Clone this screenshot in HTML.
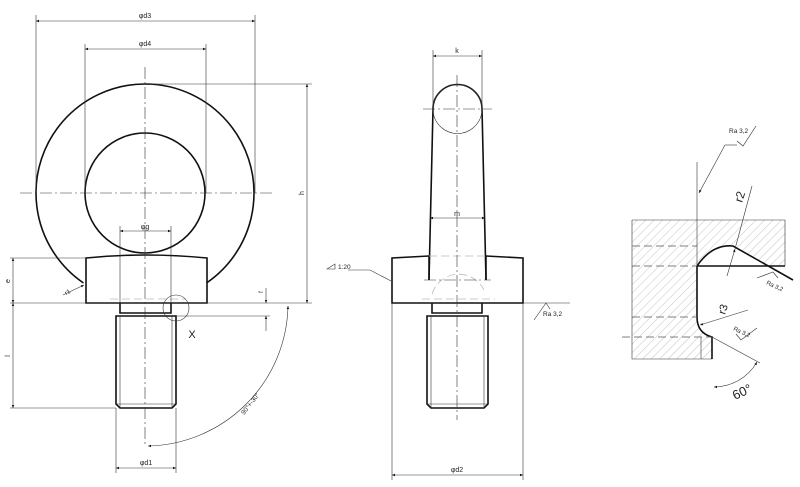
<!DOCTYPE html>
<html><head><meta charset="utf-8"><style>
html,body{margin:0;padding:0;background:#fff;width:800px;height:487px;overflow:hidden}
svg{display:block}
text{font-family:"Liberation Sans",sans-serif;fill:#222}
.k{stroke:#111;stroke-width:1.6;fill:none}
.t{stroke:#333;stroke-width:0.6;fill:none}
.c{stroke:#333;stroke-width:0.6;fill:none;stroke-dasharray:12 3 2 3}
.d{stroke:#555;stroke-width:0.8;fill:none;stroke-dasharray:8 4}
.g{stroke:#bbb;stroke-width:0.8;fill:none;stroke-dasharray:8 4}
</style></head><body>
<svg width="800" height="487" viewBox="0 0 800 487">
<defs>
<marker id="a" viewBox="0 0 10 10" refX="10" refY="5" markerWidth="7" markerHeight="5" orient="auto-start-reverse"><path d="M0,1 L10,5 L0,9z" fill="#111"/></marker>
<pattern id="h" width="6" height="6" patternUnits="userSpaceOnUse" patternTransform="rotate(45)"><line x1="0" y1="0" x2="0" y2="6" stroke="#999" stroke-width="0.6"/></pattern>
</defs>

<!-- LEFT VIEW -->
<path class="k" d="M83.5,283 A109,109 0 1 1 206.5,283"/>
<circle class="k" cx="145" cy="193" r="60"/>
<path class="k" d="M86,303 L86,258 Q145,252 207,258 L207,303 Z"/>
<path class="k" d="M120,303 L120,313 L171,313 L171,303"/>
<path class="k" d="M116,316 L176,316 L176,404 L172,408 L120,408 L116,404 Z"/>
<line class="t" x1="120" y1="316" x2="120" y2="408"/><line class="t" x1="172" y1="316" x2="172" y2="408"/>
<line class="t" x1="116" y1="404" x2="176" y2="404"/>
<line class="g" x1="110" y1="299" x2="185" y2="299"/>
<line class="c" x1="145" y1="67" x2="145" y2="445"/>
<line class="c" x1="20" y1="193" x2="275" y2="193"/>
<line class="t" x1="36" y1="15" x2="36" y2="193"/><line class="t" x1="255" y1="15" x2="255" y2="193"/>
<line class="t" x1="36" y1="21" x2="255" y2="21" marker-start="url(#a)" marker-end="url(#a)"/>
<text x="145" y="18" font-size="7" text-anchor="middle">φd3</text>
<line class="t" x1="85" y1="44" x2="85" y2="193"/><line class="t" x1="206" y1="44" x2="206" y2="193"/>
<line class="t" x1="85" y1="49" x2="206" y2="49" marker-start="url(#a)" marker-end="url(#a)"/>
<text x="145" y="46" font-size="7" text-anchor="middle">φd4</text>
<line class="t" x1="120" y1="226" x2="120" y2="303"/><line class="t" x1="171" y1="226" x2="171" y2="303"/>
<line class="t" x1="120" y1="231" x2="171" y2="231" marker-start="url(#a)" marker-end="url(#a)"/>
<text x="145" y="229" font-size="7" text-anchor="middle">φg</text>
<line class="t" x1="150" y1="84" x2="312" y2="84"/>
<line class="t" x1="10" y1="303" x2="312" y2="303"/>
<line class="t" x1="307" y1="84" x2="307" y2="303" marker-start="url(#a)" marker-end="url(#a)"/>
<text x="0" y="0" font-size="7" text-anchor="middle" transform="translate(304,193) rotate(-90)">h</text>
<line class="t" x1="10" y1="258" x2="86" y2="258"/>
<line class="t" x1="13" y1="258" x2="13" y2="303" marker-start="url(#a)" marker-end="url(#a)"/>
<text x="0" y="0" font-size="7" text-anchor="middle" transform="translate(10,281) rotate(-90)">e</text>
<line class="t" x1="10" y1="408" x2="116" y2="408"/>
<line class="t" x1="13" y1="303" x2="13" y2="408" marker-start="url(#a)" marker-end="url(#a)"/>
<text x="0" y="0" font-size="7" text-anchor="middle" transform="translate(10,356) rotate(-90)">l</text>
<line class="t" x1="176" y1="316" x2="270" y2="316"/>
<line class="t" x1="266" y1="288" x2="266" y2="303" marker-end="url(#a)"/>
<line class="t" x1="266" y1="331" x2="266" y2="316" marker-end="url(#a)"/>
<text x="0" y="0" font-size="6" text-anchor="middle" transform="translate(263,292) rotate(-90)">f</text>
<circle class="t" cx="176" cy="308" r="13"/>
<text x="192" y="338" font-size="11" text-anchor="middle" fill="#333">X</text>
<line class="t" x1="116" y1="408" x2="116" y2="473"/><line class="t" x1="176" y1="408" x2="176" y2="473"/>
<line class="t" x1="116" y1="468" x2="176" y2="468" marker-start="url(#a)" marker-end="url(#a)"/>
<text x="146" y="465" font-size="7" text-anchor="middle">φd1</text>
<path class="t" d="M288,306 A143,143 0 0 1 148,446" marker-start="url(#a)" marker-end="url(#a)"/>
<text x="0" y="0" font-size="6.5" text-anchor="middle" transform="translate(252,405) rotate(-52)">90°+-30°</text>
<line class="t" x1="63" y1="295" x2="84" y2="285" marker-end="url(#a)"/>
<text x="0" y="0" font-size="6" fill="#999" transform="translate(66,295) rotate(-25)">r1</text>

<!-- MIDDLE VIEW -->
<path class="k" d="M429,280 L433,109 A24.5,24.5 0 0 1 482,109 L486,280"/>
<circle class="t" cx="457.5" cy="109" r="24.5"/>
<path class="k" d="M429,256 L392,258 L392,303 L523,303 L523,258 L486,256"/>
<line class="k" x1="429" y1="256" x2="429" y2="280"/>
<line class="k" x1="486" y1="256" x2="486" y2="280"/>
<line class="g" x1="429" y1="256" x2="486" y2="256"/>
<path class="g" d="M432,294 A28,28 0 0 1 484,290" stroke-dasharray="none"/>
<line class="g" x1="422" y1="299" x2="495" y2="299"/>
<path class="k" d="M432,303 L432,313 L482,313 L482,303"/>
<path class="k" d="M427,316 L488,316 L488,404 L484,408 L431,408 L427,404 Z"/>
<line class="t" x1="431" y1="316" x2="431" y2="408"/><line class="t" x1="484" y1="316" x2="484" y2="408"/>
<line class="t" x1="427" y1="404" x2="488" y2="404"/>
<line class="c" x1="457" y1="75" x2="457" y2="420"/>
<line class="c" x1="423" y1="109" x2="492" y2="109"/>
<line class="c" x1="424" y1="280" x2="491" y2="280"/>
<line class="t" x1="433" y1="50" x2="433" y2="109"/><line class="t" x1="482" y1="50" x2="482" y2="109"/>
<line class="t" x1="433" y1="56" x2="482" y2="56" marker-start="url(#a)" marker-end="url(#a)"/>
<text x="457" y="53" font-size="7" text-anchor="middle">k</text>
<line class="t" x1="430" y1="218" x2="485" y2="218" marker-start="url(#a)" marker-end="url(#a)"/>
<text x="457" y="216" font-size="7" text-anchor="middle">m</text>
<line class="t" x1="392" y1="303" x2="392" y2="480"/><line class="t" x1="523" y1="303" x2="523" y2="480"/>
<line class="t" x1="392" y1="475" x2="523" y2="475" marker-start="url(#a)" marker-end="url(#a)"/>
<text x="457" y="472" font-size="7" text-anchor="middle">φd2</text>
<line class="t" x1="523" y1="303" x2="570" y2="303"/>
<path class="t" d="M534,320 L546,303 L550,309"/>
<text x="543" y="316" font-size="6.5">Ra 3,2</text>
<path class="t" d="M327,269 L335,264 L335,269 Z"/>
<text x="338" y="269" font-size="6.5">1:20</text>
<path class="t" d="M348,270 L370,270 L391,281"/>

<!-- RIGHT VIEW -->
<path d="M632,220 L785,220 L785,266 L768,266 L733,246 Q714,246 697,266 L697,317 Q697,332 712,337 L712,359 L632,359 Z" fill="url(#h)"/>
<path class="t" d="M632,220 L785,220 L785,266 M632,220 L632,359 L712,359 L712,337"/>
<line class="t" x1="701" y1="337" x2="701" y2="359"/>
<line class="k" x1="697" y1="266" x2="785" y2="266"/>
<path class="k" d="M793,280 L733,246 Q712,244 697,266 L697,317 Q697,333 712,337 L712,359"/>
<line class="t" x1="712" y1="337" x2="760" y2="363"/>
<line class="d" x1="632" y1="246" x2="697" y2="246"/>
<line class="d" x1="632" y1="266" x2="697" y2="266"/>
<line class="d" x1="632" y1="317" x2="697" y2="317"/>
<line class="d" x1="622" y1="337" x2="712" y2="337"/>
<line class="t" x1="697" y1="162" x2="697" y2="266"/>
<path class="t" d="M725,145 L737,145"/>
<line class="t" x1="725" y1="145" x2="699" y2="193" marker-end="url(#a)"/>
<path class="t" d="M737,141 L743,146 L756,126"/>
<text x="729" y="133" font-size="6.5">Ra 3,2</text>
<line class="t" x1="727" y1="276" x2="735" y2="249" marker-end="url(#a)"/>
<line class="t" x1="735" y1="249" x2="752" y2="186"/>
<text x="0" y="0" font-size="12" fill="#888" transform="translate(742,203) rotate(-72)">r2</text>
<line class="t" x1="748" y1="310" x2="700" y2="325" marker-end="url(#a)"/>
<text x="0" y="0" font-size="11" fill="#888" transform="translate(725,315) rotate(-72)">r3</text>
<path class="t" d="M757,278 L773,272 L778,278"/>
<text x="0" y="0" font-size="6" transform="translate(766,284) rotate(25)">Ra 3,2</text>
<path class="t" d="M736,334 L741,340 L757,328"/>
<text x="0" y="0" font-size="6" transform="translate(733,330) rotate(25)">Ra 3,2</text>
<path class="t" d="M714,387 A50,50 0 0 0 757,362" marker-start="url(#a)" marker-end="url(#a)"/>
<text x="0" y="0" font-size="13" fill="#333" transform="translate(735,400) rotate(-25)">60°</text>
</svg>
</body></html>
